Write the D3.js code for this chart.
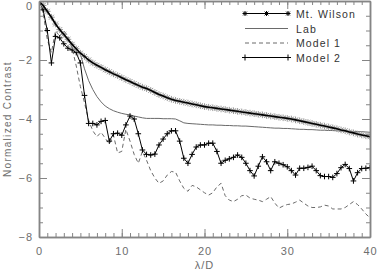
<!DOCTYPE html>
<html>
<head>
<meta charset="utf-8">
<script src="https://cdn.jsdelivr.net/npm/d3@7"></script>
<style>
  body { margin: 0; background: #fff; }
  text { font-family: "Liberation Sans", Arial, sans-serif; }
</style>
</head>
<body>
<div id="chart"></div>
<script>
// lambda/D sample positions
var lam = [0,0.5,1,1.5,2,2.5,3,3.5,4,4.5,5,5.5,6,6.5,7,7.5,8,8.5,9,9.5,
  10,10.5,11,11.5,12,12.5,13,13.5,14,14.5,15,15.5,16,16.5,17,17.5,18,18.5,19,19.5,
  20,20.5,21,21.5,22,22.5,23,23.5,24,24.5,25,25.5,26,26.5,27,27.5,28,28.5,29,29.5,
  30,30.5,31,31.5,32,32.5,33,33.5,34,34.5,35,35.5,36,36.5,37,37.5,38,38.5,39,39.5,40];

var mtWilson = [0,-0.15,-0.35,-0.55,-0.78,-0.97,-1.13,-1.3,-1.47,-1.62,-1.77,
  -1.88,-2.0,-2.1,-2.18,-2.25,-2.33,-2.4,-2.47,-2.53,-2.6,
  -2.67,-2.73,-2.8,-2.86,-2.92,-2.97,-3.03,-3.1,-3.17,-3.22,
  -3.28,-3.33,-3.37,-3.4,-3.43,-3.46,-3.49,-3.52,-3.55,-3.58,
  -3.6,-3.62,-3.64,-3.66,-3.68,-3.7,-3.72,-3.74,-3.76,-3.78,
  -3.8,-3.82,-3.84,-3.86,-3.88,-3.9,-3.92,-3.94,-3.96,-3.98,
  -4.0,-4.03,-4.06,-4.09,-4.12,-4.15,-4.18,-4.21,-4.24,-4.27,
  -4.3,-4.33,-4.37,-4.4,-4.44,-4.47,-4.51,-4.54,-4.57,-4.6];

var lab = [0,-0.15,-0.37,-0.58,-0.8,-1.0,-1.17,-1.35,-1.5,-1.65,-1.8,
  -2.3,-2.7,-3.0,-3.24,-3.42,-3.56,-3.65,-3.72,-3.77,-3.81,
  -3.84,-3.86,-3.9,-3.93,-3.96,-3.98,-3.98,-3.98,-3.98,-3.99,
  -3.99,-3.99,-4.0,-4.06,-4.13,-4.15,-4.16,-4.17,-4.18,-4.19,
  -4.2,-4.2,-4.21,-4.21,-4.22,-4.22,-4.23,-4.23,-4.24,-4.24,
  -4.25,-4.26,-4.27,-4.28,-4.29,-4.3,-4.31,-4.31,-4.32,-4.32,
  -4.33,-4.34,-4.35,-4.35,-4.36,-4.36,-4.37,-4.38,-4.38,-4.39,
  -4.39,-4.4,-4.41,-4.41,-4.42,-4.42,-4.43,-4.43,-4.44,-4.45];

var model1 = [0,-0.4,-1.3,-1.75,-1.0,-1.2,-1.0,-1.2,-1.6,-2.2,-2.9,
  -3.45,-4.05,-4.4,-4.6,-4.45,-4.65,-4.85,-4.55,-5.15,-5.1,
  -4.35,-4.75,-5.2,-5.5,-5.1,-5.4,-5.75,-6.0,-6.18,-6.1,
  -5.9,-5.78,-5.8,-6.1,-6.35,-6.45,-6.25,-6.3,-6.4,-6.5,
  -6.58,-6.5,-6.3,-6.18,-6.6,-6.75,-6.8,-6.72,-6.6,-6.58,
  -6.68,-6.72,-6.75,-6.8,-6.72,-6.63,-6.85,-7.02,-6.95,-6.9,
  -6.88,-6.82,-6.75,-6.85,-6.95,-7.0,-7.0,-6.98,-6.92,-6.95,
  -7.05,-7.05,-7.05,-7.0,-6.9,-6.8,-6.9,-7.05,-7.22,-7.35];

var model2 = [0,-0.3,-1.0,-2.1,-1.2,-1.25,-1.45,-1.6,-1.66,-1.75,-2.1,
  -3.2,-4.15,-4.15,-4.2,-4.08,-4.05,-4.75,-4.5,-4.48,-4.55,
  -4.2,-3.9,-4.0,-4.5,-5.05,-5.2,-5.22,-5.19,-4.88,-4.68,
  -4.5,-4.4,-4.4,-4.75,-5.33,-5.5,-5.2,-4.95,-4.88,-4.88,
  -4.82,-4.82,-5.1,-5.5,-5.4,-5.35,-5.3,-5.22,-5.3,-5.5,
  -5.75,-5.93,-5.6,-5.28,-5.45,-5.75,-5.45,-5.5,-5.55,-5.62,
  -5.75,-5.9,-5.67,-5.67,-5.64,-5.6,-5.75,-5.92,-5.95,-5.95,
  -5.98,-5.85,-5.65,-5.54,-5.68,-6.1,-5.82,-5.68,-5.67,-5.65];

var xTicks = [0, 10, 20, 30, 40];
var yTicks = [0, -2, -4, -6, -8];
var legendNames = ["Mt. Wilson", "Lab", "Model 1", "Model 2"];

var margin = {top: 1, right: 7, bottom: 36, left: 39},
    width = 377 - margin.left - margin.right,
    height = 273 - margin.top - margin.bottom;

var axisColor = "#858585";

var svg = d3.select("#chart")
  .append("svg")
    .attr("width", 377)
    .attr("height", 273)
  .append("g")
    .attr("transform", "translate(" + margin.left + "," + margin.top + ")");

var x = d3.scaleLinear().domain([0, 40]).range([0, width]);
var y = d3.scaleLinear().domain([-8, 0]).range([height, 0]);

function zip(vals) {
  return lam.map(function(l, i) { return {x: l, y: vals[i]}; });
}

// clip so curves stay inside frame
svg.append("clipPath").attr("id", "clip")
  .append("rect").attr("width", width).attr("height", height);

var line = d3.line()
  .x(function(d) { return x(d.x); })
  .y(function(d) { return y(d.y); });

var plot = svg.append("g").attr("clip-path", "url(#clip)");

function star(g, cx, cy, r, color) {
  g.append("path")
    .attr("d", "M" + (cx - r) + "," + cy + "h" + (2 * r) +
      "M" + cx + "," + (cy - r) + "v" + (2 * r) +
      "M" + (cx - r * 0.75) + "," + (cy - r * 0.75) + "l" + (1.5 * r) + "," + (1.5 * r) +
      "M" + (cx - r * 0.75) + "," + (cy + r * 0.75) + "l" + (1.5 * r) + "," + (-1.5 * r))
    .attr("stroke", color).attr("stroke-width", 1).attr("fill", "none");
}
function plus(g, cx, cy, r, color) {
  g.append("path")
    .attr("d", "M" + (cx - r) + "," + cy + "h" + (2 * r) +
      "M" + cx + "," + (cy - r) + "v" + (2 * r))
    .attr("stroke", color).attr("stroke-width", 1).attr("fill", "none");
}

// Model 1 dashed
plot.append("path")
  .datum(zip(model1))
  .attr("fill", "none")
  .attr("stroke", "#6a6a6a")
  .attr("stroke-width", 1)
  .attr("stroke-dasharray", "4,3")
  .attr("d", line);

// Lab
plot.append("path")
  .datum(zip(lab))
  .attr("fill", "none")
  .attr("stroke", "#6a6a6a")
  .attr("stroke-width", 1)
  .attr("d", line);

// Model 2 with + marks
plot.append("path")
  .datum(zip(model2))
  .attr("fill", "none")
  .attr("stroke", "#000")
  .attr("stroke-width", 1)
  .attr("d", line);
zip(model2).forEach(function(d) { plus(plot, x(d.x), y(d.y), 2.8, "#000"); });

// Mt. Wilson with stars
zip(mtWilson).forEach(function(d) { star(plot, x(d.x), y(d.y), 3.3, "#999"); });
plot.append("path")
  .datum(zip(mtWilson))
  .attr("fill", "none")
  .attr("stroke", "#000")
  .attr("stroke-width", 1.6)
  .attr("d", line);

// axes, ticks inward
function styleAxis(g) {
  g.selectAll("path.domain").attr("stroke", axisColor).attr("stroke-width", 1.5);
  g.selectAll(".tick line").attr("stroke", axisColor);
  g.selectAll(".tick text").attr("fill", "#6e6e6e")
    .style("font-size", "11px").style("letter-spacing", "1px");
}

var xMinor = d3.range(0, 41, 1), yMinor = d3.range(-8, 0.01, 0.5);

svg.append("g").attr("transform", "translate(0," + height + ")")
  .call(d3.axisBottom(x).tickValues(xMinor).tickSize(-4).tickFormat("").tickSizeOuter(0))
  .call(styleAxis);
svg.append("g").attr("transform", "translate(0," + height + ")")
  .call(d3.axisBottom(x).tickValues(xTicks).tickSize(-8).tickPadding(10).tickSizeOuter(0))
  .call(styleAxis);
svg.append("g")
  .call(d3.axisTop(x).tickValues(xMinor).tickSize(-4).tickFormat("").tickSizeOuter(0))
  .call(styleAxis);
svg.append("g")
  .call(d3.axisTop(x).tickValues(xTicks).tickSize(-8).tickFormat("").tickSizeOuter(0))
  .call(styleAxis);

svg.append("g")
  .call(d3.axisLeft(y).tickValues(yMinor).tickSize(-4).tickFormat("").tickSizeOuter(0))
  .call(styleAxis);
svg.append("g")
  .call(d3.axisLeft(y).tickValues(yTicks).tickSize(-8).tickPadding(6).tickSizeOuter(0)
    .tickFormat(function(d) { return d === 0 ? "0" : "\u2212" + Math.abs(d); }))
  .call(styleAxis)
  .selectAll(".tick text")
    .filter(function(d) { return d === 0; })
    .attr("dy", "0.75em");   // keep the top label inside the page
svg.append("g").attr("transform", "translate(" + width + ",0)")
  .call(d3.axisRight(y).tickValues(yMinor).tickSize(-4).tickFormat("").tickSizeOuter(0))
  .call(styleAxis);
svg.append("g").attr("transform", "translate(" + width + ",0)")
  .call(d3.axisRight(y).tickValues(yTicks).tickSize(-8).tickFormat("").tickSizeOuter(0))
  .call(styleAxis);

// axis titles
svg.append("text")
  .attr("x", x(20))
  .attr("y", height + 32)
  .attr("text-anchor", "middle")
  .attr("fill", "#6e6e6e")
  .style("font-size", "11px")
  .style("letter-spacing", "1px")
  .text("\u03bb/D");

svg.append("text")
  .attr("transform", "translate(" + (-margin.left + 11) + "," + (height / 2) + ") rotate(-90)")
  .attr("text-anchor", "middle")
  .attr("fill", "#6e6e6e")
  .style("font-size", "10px")
  .style("letter-spacing", "1.3px")
  .text("Normalized Contrast");

// legend
var lx0 = 206, lx1 = 249, rowY = [12.5, 27.5, 42, 56.5];
var leg = svg.append("g");
legendNames.forEach(function(name, i) {
  var yy = rowY[i];
  var ln = leg.append("line")
    .attr("x1", lx0).attr("x2", lx1).attr("y1", yy).attr("y2", yy)
    .attr("stroke", i === 1 || i === 2 ? "#6a6a6a" : "#000")
    .attr("stroke-width", 1);
  if (i === 2) ln.attr("stroke-dasharray", "4,3");
  if (i === 0) [lx0, (lx0 + lx1) / 2, lx1].forEach(function(p) { star(leg, p, yy, 2.5, "#000"); });
  if (i === 3) [lx0, lx1].forEach(function(p) { plus(leg, p, yy, 3, "#000"); });
  leg.append("text")
    .attr("x", lx1 + 8)
    .attr("y", yy + 4)
    .attr("fill", "#333")
    .style("font-size", "10.5px")
    .style("letter-spacing", "1.1px")
    .text(name);
});
</script>
</body>
</html>
